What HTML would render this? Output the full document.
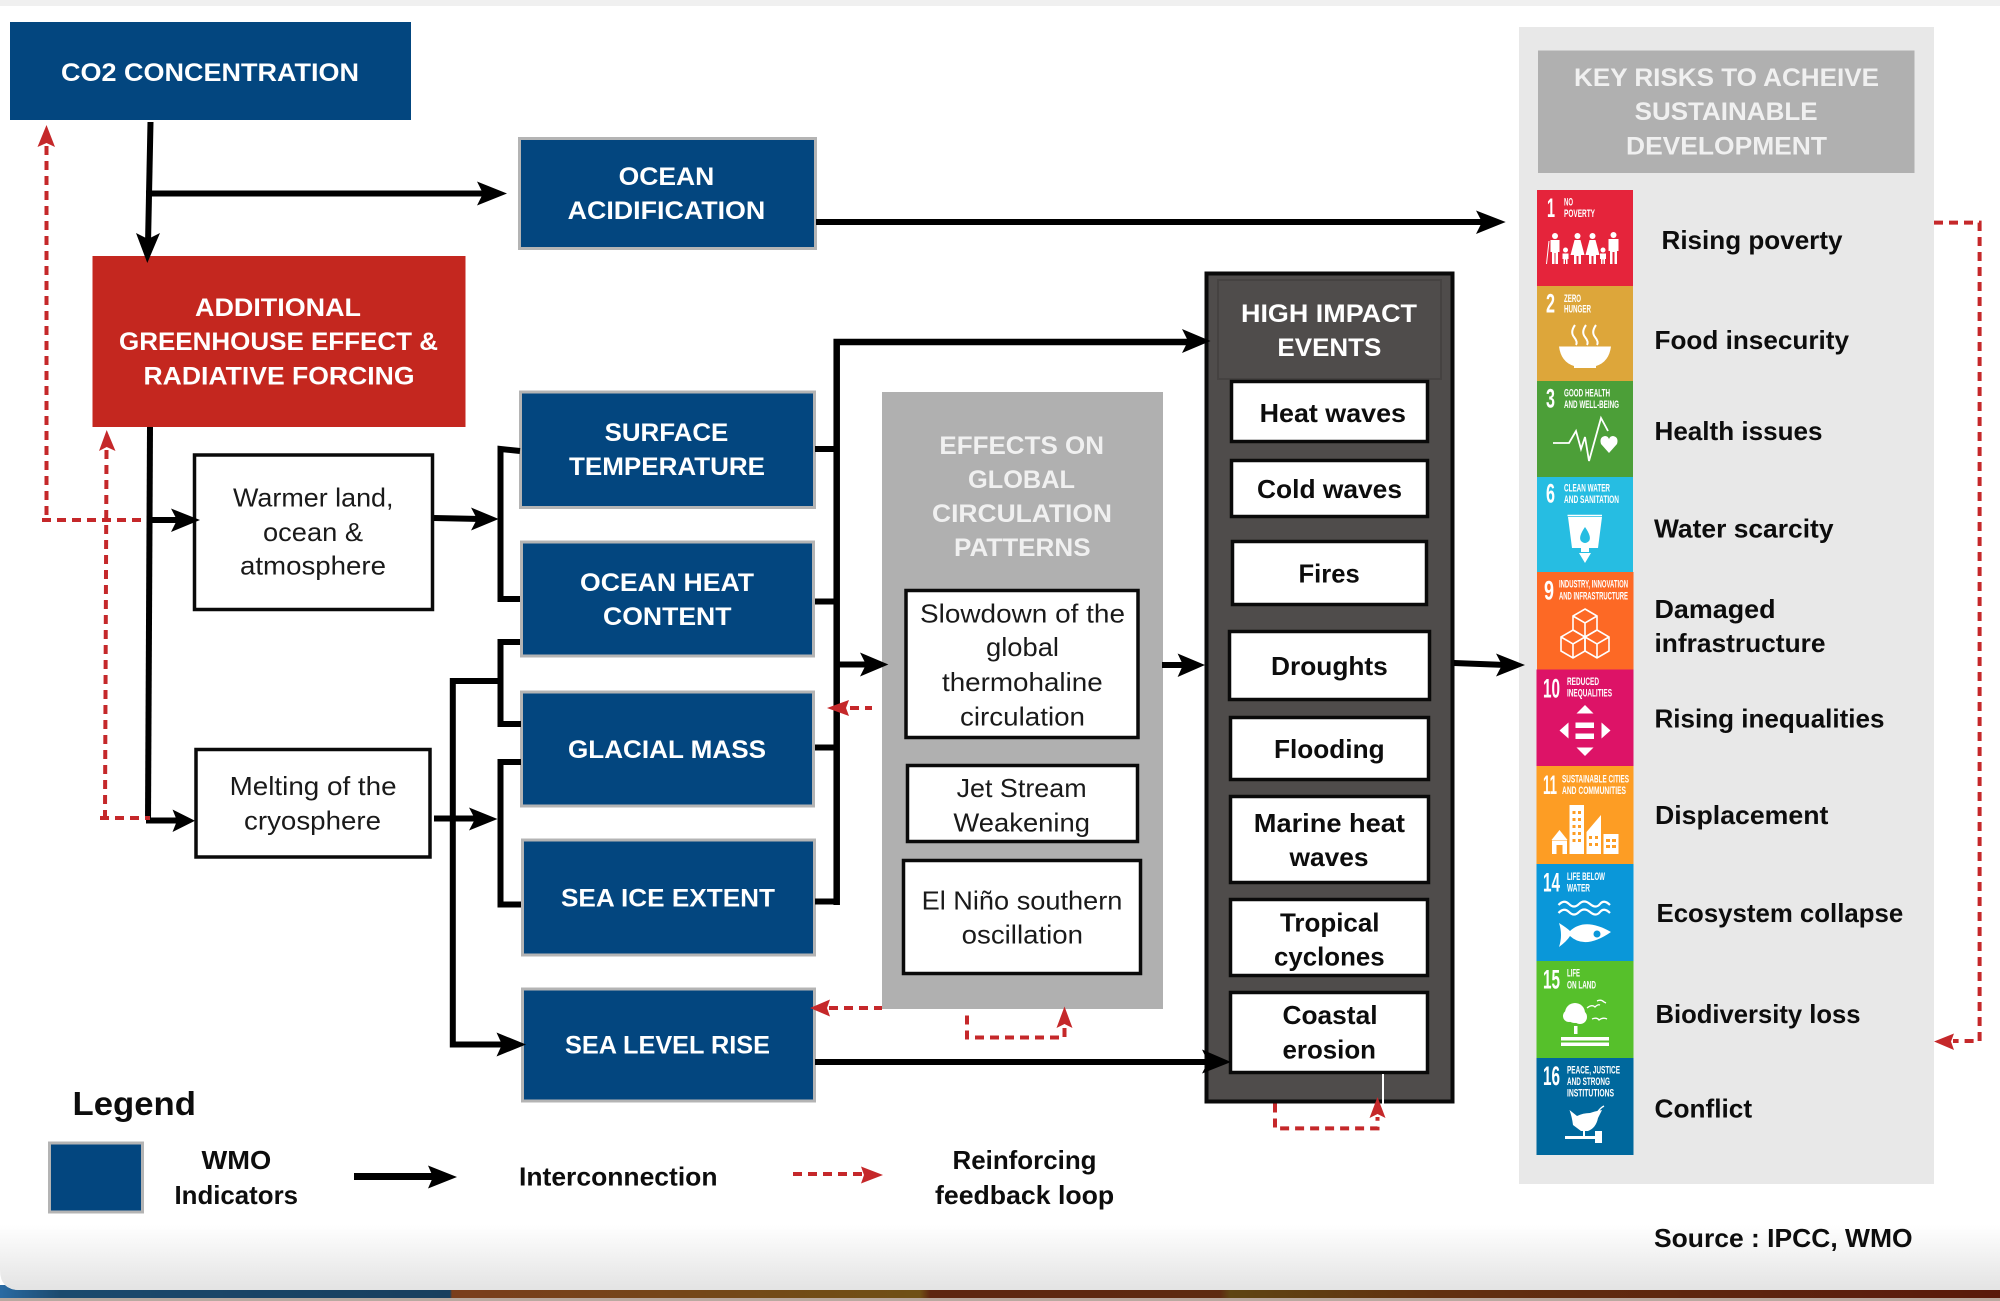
<!DOCTYPE html>
<html lang="en">
<head>
<meta charset="utf-8">
<title>Climate indicators diagram</title>
<style>
html,body{margin:0;padding:0;background:#fff;width:2000px;height:1301px;overflow:hidden}
svg{display:block}
text{font-family:"Liberation Sans",Arial,sans-serif}
.h{font-weight:700;font-size:25px;fill:#fff;text-anchor:start}
.g{font-weight:700;font-size:25px;fill:#f0f0f0}
.n{font-weight:400;font-size:26px;fill:#1a1a1a}
.b{font-weight:700;font-size:26px;fill:#0d0d0d}
.num{font-weight:700;font-size:27px;fill:#fff}
.sm{font-weight:700;font-size:11px;fill:#fff}
.blue{fill:#03467f;stroke:#b4b4b4;stroke-width:3}
.wb{fill:#fff;stroke:#0a0a0a;stroke-width:3.5}
.bl{fill:none;stroke:#000;stroke-width:6}
.rd{fill:none;stroke:#c5282a;stroke-width:4;stroke-dasharray:9 6}
.ic{fill:#fff}
.ol{fill:none;stroke:#fff;stroke-width:1.6}
</style>
</head>
<body>
<svg width="2000" height="1301" viewBox="0 0 2000 1301" xmlns="http://www.w3.org/2000/svg">
<defs>
<linearGradient id="fade" x1="0" y1="0" x2="0" y2="1">
<stop offset="0" stop-color="#ffffff"/><stop offset="1" stop-color="#e3e3e3"/>
</linearGradient>
<linearGradient id="strip" x1="0" y1="0" x2="1" y2="0">
<stop offset="0" stop-color="#2a6ba3"/><stop offset=".03" stop-color="#1c4a6e"/><stop offset=".225" stop-color="#193f5e"/>
<stop offset=".226" stop-color="#7a3d1c"/><stop offset=".46" stop-color="#705015"/><stop offset=".465" stop-color="#5e2610"/>
<stop offset=".61" stop-color="#5e2a10"/><stop offset=".615" stop-color="#5f4512"/><stop offset=".72" stop-color="#623010"/>
<stop offset="1" stop-color="#5a1a0c"/>
</linearGradient>
</defs>

<!-- page background -->
<rect x="0" y="1285" width="2000" height="13" fill="url(#strip)"/>
<rect x="0" y="1298" width="2000" height="3" fill="#b9a9a0"/>
<path d="M0 0H2000V1290H20Q0 1290 0 1270Z" fill="#fff"/>
<path d="M0 1225H2000V1290H20Q0 1290 0 1270Z" fill="url(#fade)"/>
<rect x="0" y="0" width="2000" height="6" fill="#f0f0f0"/>

<!-- right panel -->
<rect x="1519" y="27" width="415" height="1157" fill="#e8e8e8"/>
<rect x="1538" y="50.500" width="376.500" height="122.500" fill="#b0b0b0"/>

<!-- effects panel -->
<rect x="882" y="392" width="281" height="617" fill="#b0b0b0"/>
<rect x="906" y="590.500" width="232" height="147" class="wb"/>
<rect x="907.500" y="765.500" width="230" height="76" class="wb"/>
<rect x="903.500" y="860.500" width="237" height="113" class="wb"/>

<!-- high impact panel -->
<rect x="1206.500" y="273.500" width="246" height="828" fill="#4f4c4b" stroke="#0a0a0a" stroke-width="4"/>
<rect x="1218" y="280" width="223" height="99" fill="none" stroke="#454241" stroke-width="2"/>
<rect x="1231.500" y="381.500" width="196" height="60" class="wb"/>
<rect x="1231.500" y="460.500" width="196" height="56" class="wb"/>
<rect x="1232.500" y="541.500" width="194" height="63" class="wb"/>
<rect x="1229.500" y="631.500" width="200" height="68" class="wb"/>
<rect x="1230.500" y="717.500" width="198" height="62" class="wb"/>
<rect x="1230.500" y="796.500" width="198" height="86" class="wb"/>
<rect x="1230.500" y="899.500" width="197" height="76" class="wb"/>
<rect x="1230.500" y="992.500" width="197" height="80" class="wb"/>
<rect x="1382" y="1074" width="2" height="31" fill="#fff"/>

<!-- blue and red boxes -->
<rect x="10" y="22" width="401" height="98" fill="#03467f"/>
<rect x="92.500" y="256" width="373" height="171" fill="#c4271f"/>
<rect x="519.500" y="138.500" width="296" height="110" class="blue"/>
<rect x="520.500" y="392" width="294" height="115.500" class="blue"/>
<rect x="521.500" y="542" width="292" height="114" class="blue"/>
<rect x="521.500" y="692" width="292" height="114" class="blue"/>
<rect x="522.500" y="840" width="292" height="115" class="blue"/>
<rect x="522.500" y="989" width="292" height="112" class="blue"/>
<rect x="49.500" y="1143" width="93" height="69" class="blue"/>

<!-- white boxes -->
<rect x="194.500" y="455" width="238" height="154.500" class="wb"/>
<rect x="196" y="749.500" width="234" height="107.500" class="wb"/>

<!-- black connectors -->
<g class="bl">
<path d="M150.500 122L148 244"/>
<path d="M146 193.500H487"/>
<path d="M816 222H1486"/>
<path d="M150 427L148 820"/>
<path d="M148 520H181"/>
<path d="M146 820.500H181"/>
<path d="M434 518L481 519"/>
<path d="M520 451L500.500 449V599H520"/>
<path d="M520 642H500.500V724H521"/>
<path d="M521 762H500.500V904.500H521"/>
<path d="M505 1044.500H452.800V681H500"/>
<path d="M434 818.500H479"/>
<path d="M815 449H836.700M815 601.500H836.700M815 747.500H836.700M815 901.500H836.700"/>
<path d="M836.700 905V342H1192" stroke-width="6.500"/>
<path d="M836.700 664.500H871"/>
<path d="M1162 665H1187"/>
<path d="M1454 663L1506 665"/>
<path d="M815 1062H1212"/>
<path d="M354 1176.500H437" stroke-width="7"/>
</g>
<g fill="#000">
<path d="M147.300 263L136 233L148 239L160 233Z"/>
<path d="M507 193.500L477 181.500L483 193.500L477 205.500Z"/>
<path d="M1505.700 222L1476 210.500L1482 222L1476 234Z"/>
<path d="M200 520L171 508.500L177 520L171 532Z"/>
<path d="M195 820.700L172.500 809.500L177 820.700L172.500 832Z"/>
<path d="M498.700 519L471 507.500L477 519L471 530.500Z"/>
<path d="M497.500 819L469 807.500L475 819L469 830.500Z"/>
<path d="M526 1044.500L496.500 1032.500L502 1044.500L496.500 1056.500Z"/>
<path d="M1210.500 341L1182 329L1188 341L1182 353Z"/>
<path d="M888.400 664.500L860 652.500L866 664.500L860 676.500Z"/>
<path d="M1205 665L1177.600 653.500L1183 665L1177.600 677Z"/>
<path d="M1525 665L1496 653.500L1502 665L1496 676.500Z"/>
<path d="M1231 1062L1202 1049.500L1208 1062L1202 1073.500Z"/>
<path d="M457 1177L428 1165.500L433 1177L428 1188.500Z"/>
</g>

<!-- red dashed connectors -->
<g class="rd">
<path d="M46.500 146V520"/>
<path d="M42 520H144"/>
<path d="M106.500 450L105 816"/>
<path d="M100 818H150"/>
<path d="M850 708H872"/>
<path d="M829 1008H882"/>
<path d="M967 1015.500V1037.500H1064.500V1026"/>
<path d="M1275 1103.500V1128.400H1377.500V1117"/>
<path d="M1934 222.600H1979.600V1041H1953"/>
<path d="M793 1174H862"/>
</g>
<g fill="#c5282a">
<path d="M46.500 125L37.500 147L46.500 143L55 147Z"/>
<path d="M106.700 430L99 451L106.700 447L115.500 451Z"/>
<path d="M827 708L849 700L846 708L849 716Z"/>
<path d="M810 1008L830 999.500L827 1008L830 1016.500Z"/>
<path d="M1064.500 1006.500L1056.500 1028L1064.500 1024L1072.500 1028Z"/>
<path d="M1377.500 1097L1369.500 1118L1377.500 1114L1385.500 1118Z"/>
<path d="M1934 1041.500L1954 1033.500L1951 1041.500L1954 1050Z"/>
<path d="M883 1175L861 1166.500L864 1175L861 1183.500Z"/>
</g>

<!-- blue and red labels -->
<text class="h" x="61" y="81" textLength="298" lengthAdjust="spacingAndGlyphs">CO2 CONCENTRATION</text>
<text class="h" x="618.600" y="185" textLength="95.700" lengthAdjust="spacingAndGlyphs">OCEAN</text>
<text class="h" x="567.600" y="219" textLength="197.700" lengthAdjust="spacingAndGlyphs">ACIDIFICATION</text>
<text class="h" x="195" y="316" textLength="166" lengthAdjust="spacingAndGlyphs">ADDITIONAL</text>
<text class="h" x="119" y="350" textLength="319" lengthAdjust="spacingAndGlyphs">GREENHOUSE EFFECT &amp;</text>
<text class="h" x="143.500" y="384.700" textLength="271" lengthAdjust="spacingAndGlyphs">RADIATIVE FORCING</text>
<text class="h" x="604.600" y="441" textLength="123.700" lengthAdjust="spacingAndGlyphs">SURFACE</text>
<text class="h" x="569" y="475" textLength="196" lengthAdjust="spacingAndGlyphs">TEMPERATURE</text>
<text class="h" x="580" y="591" textLength="174" lengthAdjust="spacingAndGlyphs">OCEAN HEAT</text>
<text class="h" x="603" y="625" textLength="128.500" lengthAdjust="spacingAndGlyphs">CONTENT</text>
<text class="h" x="568" y="758" textLength="198" lengthAdjust="spacingAndGlyphs">GLACIAL MASS</text>
<text class="h" x="561" y="906.600" textLength="214" lengthAdjust="spacingAndGlyphs">SEA ICE EXTENT</text>
<text class="h" x="565" y="1053.600" textLength="205" lengthAdjust="spacingAndGlyphs">SEA LEVEL RISE</text>

<!-- white box labels -->
<text class="n" x="233" y="506.600" textLength="160.500" lengthAdjust="spacingAndGlyphs">Warmer land,</text>
<text class="n" x="263" y="541" textLength="100" lengthAdjust="spacingAndGlyphs">ocean &amp;</text>
<text class="n" x="240" y="574.600" textLength="146" lengthAdjust="spacingAndGlyphs">atmosphere</text>
<text class="n" x="229.600" y="795" textLength="167" lengthAdjust="spacingAndGlyphs">Melting of the</text>
<text class="n" x="244" y="829.400" textLength="137" lengthAdjust="spacingAndGlyphs">cryosphere</text>

<!-- effects -->
<text class="g" x="939.400" y="454" textLength="164.600" lengthAdjust="spacingAndGlyphs">EFFECTS ON</text>
<text class="g" x="968" y="488" textLength="107" lengthAdjust="spacingAndGlyphs">GLOBAL</text>
<text class="g" x="932" y="522" textLength="180" lengthAdjust="spacingAndGlyphs">CIRCULATION</text>
<text class="g" x="954" y="556" textLength="136.600" lengthAdjust="spacingAndGlyphs">PATTERNS</text>
<text class="n" x="920" y="622.700" textLength="205" lengthAdjust="spacingAndGlyphs">Slowdown of the</text>
<text class="n" x="986" y="656" textLength="73" lengthAdjust="spacingAndGlyphs">global</text>
<text class="n" x="942" y="691" textLength="160.700" lengthAdjust="spacingAndGlyphs">thermohaline</text>
<text class="n" x="960" y="725.600" textLength="125" lengthAdjust="spacingAndGlyphs">circulation</text>
<text class="n" x="956.600" y="797" textLength="130" lengthAdjust="spacingAndGlyphs">Jet Stream</text>
<text class="n" x="953.400" y="831.500" textLength="136.600" lengthAdjust="spacingAndGlyphs">Weakening</text>
<text class="n" x="921.600" y="909.600" textLength="200.800" lengthAdjust="spacingAndGlyphs">El Niño southern</text>
<text class="n" x="961.700" y="943.600" textLength="121.300" lengthAdjust="spacingAndGlyphs">oscillation</text>

<!-- high impact -->
<text class="h" x="1241" y="322" textLength="176" lengthAdjust="spacingAndGlyphs">HIGH IMPACT</text>
<text class="h" x="1277.400" y="356" textLength="104" lengthAdjust="spacingAndGlyphs">EVENTS</text>
<text class="b" x="1259.600" y="422" textLength="146.400" lengthAdjust="spacingAndGlyphs">Heat waves</text>
<text class="b" x="1257" y="498" textLength="145" lengthAdjust="spacingAndGlyphs">Cold waves</text>
<text class="b" x="1298.500" y="582.500" textLength="61.200" lengthAdjust="spacingAndGlyphs">Fires</text>
<text class="b" x="1271" y="675" textLength="116.800" lengthAdjust="spacingAndGlyphs">Droughts</text>
<text class="b" x="1274" y="758" textLength="110.600" lengthAdjust="spacingAndGlyphs">Flooding</text>
<text class="b" x="1253.800" y="832" textLength="151.200" lengthAdjust="spacingAndGlyphs">Marine heat</text>
<text class="b" x="1289.500" y="866" textLength="79.100" lengthAdjust="spacingAndGlyphs">waves</text>
<text class="b" x="1280" y="931.600" textLength="99.500" lengthAdjust="spacingAndGlyphs">Tropical</text>
<text class="b" x="1274" y="965.600" textLength="110.600" lengthAdjust="spacingAndGlyphs">cyclones</text>
<text class="b" x="1282.500" y="1023.800" textLength="95" lengthAdjust="spacingAndGlyphs">Coastal</text>
<text class="b" x="1282.500" y="1058.600" textLength="93.500" lengthAdjust="spacingAndGlyphs">erosion</text>

<!-- risks -->
<text class="g" x="1574" y="86" textLength="305" lengthAdjust="spacingAndGlyphs">KEY RISKS TO ACHEIVE</text>
<text class="g" x="1634.600" y="120" textLength="183" lengthAdjust="spacingAndGlyphs">SUSTAINABLE</text>
<text class="g" x="1626" y="154.600" textLength="201" lengthAdjust="spacingAndGlyphs">DEVELOPMENT</text>
<text class="b" x="1661.500" y="249" textLength="181" lengthAdjust="spacingAndGlyphs">Rising poverty</text>
<text class="b" x="1654.500" y="349" textLength="194.500" lengthAdjust="spacingAndGlyphs">Food insecurity</text>
<text class="b" x="1654.500" y="440" textLength="168" lengthAdjust="spacingAndGlyphs">Health issues</text>
<text class="b" x="1654" y="537.700" textLength="179.500" lengthAdjust="spacingAndGlyphs">Water scarcity</text>
<text class="b" x="1654.500" y="618" textLength="121" lengthAdjust="spacingAndGlyphs">Damaged</text>
<text class="b" x="1654.500" y="652" textLength="171" lengthAdjust="spacingAndGlyphs">infrastructure</text>
<text class="b" x="1654.500" y="727.700" textLength="230" lengthAdjust="spacingAndGlyphs">Rising inequalities</text>
<text class="b" x="1655" y="824" textLength="173.400" lengthAdjust="spacingAndGlyphs">Displacement</text>
<text class="b" x="1656.500" y="922" textLength="246.700" lengthAdjust="spacingAndGlyphs">Ecosystem collapse</text>
<text class="b" x="1655.500" y="1023" textLength="205" lengthAdjust="spacingAndGlyphs">Biodiversity loss</text>
<text class="b" x="1654.500" y="1117.600" textLength="97.600" lengthAdjust="spacingAndGlyphs">Conflict</text>
<text class="b" x="1654" y="1247" textLength="258.600" lengthAdjust="spacingAndGlyphs">Source : IPCC, WMO</text>

<!-- legend -->
<text class="b" x="72.500" y="1115" style="font-size:33px" textLength="123.400" lengthAdjust="spacingAndGlyphs">Legend</text>
<text class="b" x="201.500" y="1169" textLength="69.700" lengthAdjust="spacingAndGlyphs">WMO</text>
<text class="b" x="174.500" y="1204" textLength="123.500" lengthAdjust="spacingAndGlyphs">Indicators</text>
<text class="b" x="519" y="1185.700" textLength="198.500" lengthAdjust="spacingAndGlyphs">Interconnection</text>
<text class="b" x="952.500" y="1169" textLength="144" lengthAdjust="spacingAndGlyphs">Reinforcing</text>
<text class="b" x="935" y="1204" textLength="179.200" lengthAdjust="spacingAndGlyphs">feedback loop</text>

<!-- SDG tiles -->
<rect x="1537" y="190" width="96" height="96" fill="#e5243b"/>
<rect x="1537" y="286" width="96" height="95" fill="#dda63a"/>
<rect x="1537" y="381" width="96" height="96" fill="#4c9f38"/>
<rect x="1537" y="477" width="96" height="95" fill="#26bde2"/>
<rect x="1537" y="572" width="96.500" height="97.500" fill="#fd6925"/>
<rect x="1536.500" y="669.500" width="97" height="97" fill="#dd1367"/>
<rect x="1536.500" y="766" width="97" height="98" fill="#fd9d24"/>
<rect x="1536.500" y="864" width="97" height="97" fill="#0a97d9"/>
<rect x="1536.500" y="961" width="97" height="97" fill="#56c02b"/>
<rect x="1536.500" y="1058" width="97" height="97" fill="#00689d"/>

<text class="num" x="1547" y="217" textLength="8" lengthAdjust="spacingAndGlyphs">1</text>
<text class="sm" x="1564" y="205.500" textLength="9" lengthAdjust="spacingAndGlyphs">NO</text>
<text class="sm" x="1564" y="217" textLength="31" lengthAdjust="spacingAndGlyphs">POVERTY</text>
<g class="ic">
<circle cx="1555" cy="236" r="3"/><path d="M1550.500 240H1559.500V252H1558V264H1555.500V253H1554.500V264H1552V252H1550.500Z"/><path d="M1549.500 241L1547 264H1546L1548.500 241Z"/>
<circle cx="1565.500" cy="250" r="2.500"/><path d="M1562.500 253.500H1568.500V259H1567.500V264H1566V259.500H1565V264H1563.500V259H1562.500Z"/>
<circle cx="1577.500" cy="236" r="3"/><path d="M1574.500 240H1580.500L1584.500 255H1581V264H1578.500V256H1576.500V264H1574V255H1570.500Z"/>
<circle cx="1592.500" cy="236" r="3"/><path d="M1589.500 240H1595.500L1599.500 255H1596V264H1593.500V256H1591.500V264H1589V255H1585.500Z"/>
<circle cx="1603" cy="250" r="2.500"/><path d="M1600 253.500H1606V259H1605V264H1603.500V259.500H1602.500V264H1601V259H1600Z"/>
<circle cx="1613.500" cy="235" r="3"/><path d="M1608.500 239H1618.500V251H1617V264H1614.500V252H1612.500V264H1610V251H1608.500Z"/>
</g>

<text class="num" x="1546" y="312.700" textLength="9" lengthAdjust="spacingAndGlyphs">2</text>
<text class="sm" x="1564" y="302" textLength="17" lengthAdjust="spacingAndGlyphs">ZERO</text>
<text class="sm" x="1564" y="312.700" textLength="27" lengthAdjust="spacingAndGlyphs">HUNGER</text>
<path class="ic" d="M1559 346.500H1611Q1609 362 1596 366V368H1574V366Q1561 362 1559 346.500Z"/>
<g fill="none" stroke="#fff" stroke-width="2">
<path d="M1575 325Q1570 332 1574 337T1576 345"/>
<path d="M1586 325Q1581 332 1585 337T1587 345"/>
<path d="M1596 325Q1591 332 1595 337T1597 345"/>
</g>

<text class="num" x="1546" y="407.700" textLength="9" lengthAdjust="spacingAndGlyphs">3</text>
<text class="sm" x="1564" y="396.700" textLength="46" lengthAdjust="spacingAndGlyphs">GOOD HEALTH</text>
<text class="sm" x="1564" y="408" textLength="55" lengthAdjust="spacingAndGlyphs">AND WELL-BEING</text>
<polyline points="1553,443 1569,443 1576,431 1581,449 1585,437 1589,461 1601,418 1608,431" fill="none" stroke="#fff" stroke-width="1.800"/>
<path class="ic" d="M1609 453L1601 444Q1599 437 1605 436Q1608 436 1609 439Q1610 436 1613 436Q1619 437 1617 444Z"/>

<text class="num" x="1546" y="502.700" textLength="9" lengthAdjust="spacingAndGlyphs">6</text>
<text class="sm" x="1564" y="491.700" textLength="46" lengthAdjust="spacingAndGlyphs">CLEAN WATER</text>
<text class="sm" x="1564" y="503" textLength="55" lengthAdjust="spacingAndGlyphs">AND SANITATION</text>
<path fill="none" stroke="#fff" stroke-width="1.500" d="M1567.500 515.500H1602"/>
<path class="ic" d="M1568 517H1602L1598 548H1589V552H1581V548H1572Z"/>
<path class="ic" d="M1579 553L1585 563L1591 553Z"/>
<path d="M1585 527Q1578 537 1581 541Q1585 545 1589 541Q1592 537 1585 527Z" fill="#26bde2"/>

<text class="num" x="1544" y="599.300" textLength="10" lengthAdjust="spacingAndGlyphs">9</text>
<text class="sm" x="1559" y="587.300" textLength="69" lengthAdjust="spacingAndGlyphs">INDUSTRY, INNOVATION</text>
<text class="sm" x="1559" y="599.300" textLength="69" lengthAdjust="spacingAndGlyphs">AND INFRASTRUCTURE</text>
<g class="ol">
<path d="M1585 609L1597 616V630L1585 637L1573 630V616ZM1573 616L1585 623L1597 616M1585 623V637"/>
<path d="M1573 630L1585 637V651L1573 658L1561 651V637ZM1561 637L1573 644L1585 637M1573 644V658"/>
<path d="M1597 630L1609 637V651L1597 658L1585 651V637ZM1585 637L1597 644L1609 637M1597 644V658"/>
</g>

<text class="num" x="1543" y="697.300" textLength="17" lengthAdjust="spacingAndGlyphs">10</text>
<text class="sm" x="1567" y="685" textLength="32" lengthAdjust="spacingAndGlyphs">REDUCED</text>
<text class="sm" x="1567" y="696.700" textLength="45" lengthAdjust="spacingAndGlyphs">INEQUALITIES</text>
<g class="ic">
<path d="M1585 705L1576.500 713.500H1593.500Z"/>
<path d="M1559.500 730.500L1568.500 722.500V738.500Z"/>
<path d="M1610.500 730.500L1601.500 722.500V738.500Z"/>
<path d="M1585 756L1576.500 747.500H1593.500Z"/>
<rect x="1575.500" y="722.500" width="18.500" height="5.500"/>
<rect x="1575.500" y="733.500" width="18.500" height="5.500"/>
</g>

<text class="num" x="1543" y="794" textLength="14" lengthAdjust="spacingAndGlyphs">11</text>
<text class="sm" x="1562" y="782.300" textLength="67" lengthAdjust="spacingAndGlyphs">SUSTAINABLE CITIES</text>
<text class="sm" x="1562" y="794" textLength="64" lengthAdjust="spacingAndGlyphs">AND COMMUNITIES</text>
<g class="ic">
<path d="M1552 840.500H1567V854H1552Z"/>
<path d="M1559.500 830L1567.500 840H1551.500Z"/>
<rect x="1569.500" y="805" width="14.500" height="49"/>
<path d="M1586.500 854V832L1601 815V854Z"/>
<rect x="1603.500" y="834" width="15" height="20"/>
</g>
<g fill="#fd9d24">
<rect x="1556.500" y="845" width="6" height="9"/>
<rect x="1572.500" y="811" width="3" height="3"/><rect x="1578" y="811" width="3" height="3"/>
<rect x="1572.500" y="818" width="3" height="3"/><rect x="1578" y="818" width="3" height="3"/>
<rect x="1572.500" y="825" width="3" height="3"/><rect x="1578" y="825" width="3" height="3"/>
<rect x="1572.500" y="832" width="3" height="3"/><rect x="1578" y="832" width="3" height="3"/>
<rect x="1572.500" y="839" width="3" height="3"/><rect x="1578" y="839" width="3" height="3"/>
<rect x="1589" y="836" width="3" height="3"/><rect x="1595" y="836" width="3" height="3"/>
<rect x="1589" y="843" width="3" height="3"/><rect x="1595" y="843" width="3" height="3"/>
<rect x="1606" y="839" width="4" height="3"/><rect x="1612" y="839" width="4" height="3"/>
<rect x="1606" y="845" width="4" height="3"/><rect x="1612" y="845" width="4" height="3"/>
</g>

<text class="num" x="1543" y="891.700" textLength="17" lengthAdjust="spacingAndGlyphs">14</text>
<text class="sm" x="1567" y="880" textLength="38" lengthAdjust="spacingAndGlyphs">LIFE BELOW</text>
<text class="sm" x="1567" y="891.700" textLength="23" lengthAdjust="spacingAndGlyphs">WATER</text>
<g fill="none" stroke="#fff" stroke-width="2.200">
<path d="M1558.500 905Q1564 899 1569 904T1579 904T1590 904T1600 904T1610 905"/>
<path d="M1558.500 913Q1564 907 1569 912T1579 912T1590 912T1600 912T1610 913"/>
</g>
<path class="ic" d="M1559 923Q1567 928 1570 931Q1585 917 1611 932Q1585 950 1570 936Q1567 941 1559 947Q1563 935 1559 923Z"/>
<circle cx="1597" cy="934" r="3.500" fill="#0a97d9"/>

<text class="num" x="1543" y="988.300" textLength="17" lengthAdjust="spacingAndGlyphs">15</text>
<text class="sm" x="1567" y="976.700" textLength="13" lengthAdjust="spacingAndGlyphs">LIFE</text>
<text class="sm" x="1567" y="988.300" textLength="29" lengthAdjust="spacingAndGlyphs">ON LAND</text>
<g class="ic">
<circle cx="1575" cy="1013" r="10"/>
<circle cx="1569" cy="1016" r="6"/>
<circle cx="1580" cy="1017" r="7"/>
<rect x="1574" y="1026" width="3.500" height="8"/>
<rect x="1561" y="1037" width="48" height="3.500"/>
<rect x="1561" y="1042.500" width="48" height="3.500"/>
</g>
<g fill="none" stroke="#fff" stroke-width="1.300">
<path d="M1587 1008Q1592 1004 1595 1007Q1598 1004 1600 1005"/>
<path d="M1597 1001Q1601 999 1604 1002L1606 1003"/>
<path d="M1592 1019Q1597 1017 1599 1020Q1603 1017 1607 1019"/>
</g>

<text class="num" x="1543" y="1085" textLength="17" lengthAdjust="spacingAndGlyphs">16</text>
<text class="sm" x="1567" y="1073.300" textLength="53" lengthAdjust="spacingAndGlyphs">PEACE, JUSTICE</text>
<text class="sm" x="1567" y="1085" textLength="43" lengthAdjust="spacingAndGlyphs">AND STRONG</text>
<text class="sm" x="1567" y="1096.700" textLength="47" lengthAdjust="spacingAndGlyphs">INSTITUTIONS</text>
<g class="ic">
<path d="M1569.500 1110L1577 1116Q1583 1113 1590 1113Q1596 1111 1602 1110L1598 1118Q1596 1128 1588 1131H1581L1573 1125Q1572 1117 1569.500 1110Z"/>
<rect x="1583" y="1131" width="2" height="5"/>
<rect x="1565" y="1136" width="36" height="3"/>
<rect x="1595" y="1131" width="7" height="12"/>
</g>
<path fill="none" stroke="#fff" stroke-width="1.500" d="M1597 1113Q1600 1108 1604 1106"/>

</svg>
</body>
</html>
